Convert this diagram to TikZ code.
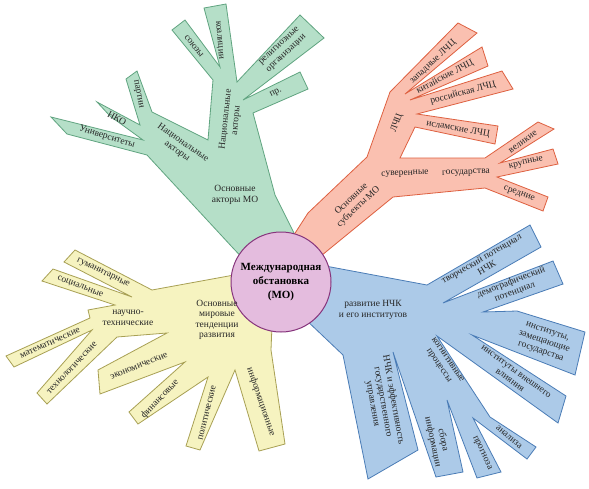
\documentclass[tikz,border=0pt]{standalone}
\usepackage{fontspec}
\setmainfont{Liberation Serif}
\definecolor{actfill}{RGB}{181,223,200}
\definecolor{actline}{RGB}{96,164,128}
\definecolor{subfill}{RGB}{250,192,176}
\definecolor{subline}{RGB}{222,96,64}
\definecolor{trendfill}{RGB}{246,243,192}
\definecolor{trendline}{RGB}{168,160,84}
\definecolor{ncfill}{RGB}{172,202,232}
\definecolor{ncline}{RGB}{74,124,182}
\definecolor{mofill}{RGB}{228,188,222}
\definecolor{moline}{RGB}{134,52,124}
\tikzset{
  branch/.style={line width=0.8pt, line join=miter},
  lbl/.style={font=\fontsize{9.5}{10.5}\selectfont, align=center, inner sep=1pt, text=black!85},
}
\begin{document}
\begin{tikzpicture}[x=1pt, y=-1pt]
\useasboundingbox (0,0) rectangle (589,488);
\fill[white] (0,0) rectangle (589,488);
\draw[branch, draw=actline, fill=actfill] (250,266) -- (233,248) -- (147,155) -- (67,134) -- (51,117) -- (143,140) -- (110,116) -- (97,102) -- (140,125) -- (126,79) -- (137,71) -- (152,112) -- (208,140) -- (213,80) -- (172,30) -- (185,20) -- (220,67) -- (204,8) -- (226,4) -- (237,82) -- (300,15) -- (324,38) -- (243,100) -- (300,72) -- (308,89) -- (253,113) -- (275,195) -- (300,245) -- cycle;
\draw[branch, draw=subline, fill=subfill] (290,241) -- (308,213) -- (367,157) -- (390,92) -- (458,23) -- (477,33) -- (405,94) -- (482,47) -- (488,66) -- (410,100) -- (502,71) -- (513,89) -- (417,114) -- (498,126) -- (495,144) -- (415,127) -- (400,158) -- (485,158) -- (538,122) -- (554,129) -- (500,163) -- (553,149) -- (558,164) -- (497,177) -- (548,197) -- (543,211) -- (485,188) -- (393,197) -- (316,260) -- cycle;
\draw[branch, draw=trendline, fill=trendfill] (245,273) -- (152,290) -- (75,250) -- (64,262) -- (132,297) -- (53,269) -- (42,281) -- (115,305) -- (88,310) -- (90,318) -- (6,356) -- (14,367) -- (92,330) -- (37,393) -- (47,404) -- (117,337) -- (167,333) -- (98,370) -- (100,394) -- (185,362) -- (129,412) -- (138,424) -- (208,377) -- (186,446) -- (200,450) -- (235,370) -- (259,451) -- (285,444) -- (271,350) -- (272,325) -- cycle;
\draw[branch, draw=ncline, fill=ncfill] (320,265) -- (427,285) -- (530,225) -- (541,247) -- (443,303) -- (553,261) -- (563,284) -- (483,312) -- (517,311) -- (585,332) -- (575,375) -- (472,335) -- (566,396) -- (558,423) -- (437,336) -- (490,417) -- (536,447) -- (527,459) -- (473,418) -- (501,472) -- (477,478) -- (447,400) -- (463,472) -- (436,477) -- (393,352) -- (418,450) -- (368,479) -- (343,355) -- (303,317) -- cycle;
\node[circle, draw=moline, fill=mofill, line width=1pt, minimum size=100pt, align=center, font=\bfseries\fontsize{11}{14}\selectfont] (mo) at (281,282) {Международная\\обстановка\\(МО)};
\node[lbl] (actors) at (235,195) {Основные\\акторы МО};
\node[lbl, rotate=-35] (natA) at (180,147) {Национальные\\акторы};
\node[lbl, rotate=84] (natB) at (231,120) {Национальные\\акторы};
\node[lbl, rotate=-17] (univ) at (107,137) {Университеты};
\node[lbl, rotate=-28] (nko) at (117,118) {НКО};
\node[lbl, rotate=-79] (party) at (138,94) {партии};
\node[lbl, rotate=-52] (union) at (194,46) {союзы};
\node[lbl, rotate=-85] (coal) at (219,40) {коалиции};
\node[lbl, rotate=43] (relig) at (283,50) {религиозные\\организации};
\node[lbl, rotate=27] (other) at (276,93) {пр.};
\node[lbl, rotate=43] (subj) at (355,203) {Основные\\субъекты МО};
\node[lbl, rotate=70] (lcc) at (397,123) {ЛЧЦ};
\node[lbl, rotate=2] (sover) at (405,174) {суверенные};
\node[lbl, rotate=2] (gos) at (466,173) {государства};
\node[lbl, rotate=43] (west) at (433,62) {западные ЛЧЦ};
\node[lbl, rotate=28] (china) at (445,77) {китайские ЛЧЦ};
\node[lbl, rotate=15] (russia) at (463,93) {российская ЛЧЦ};
\node[lbl, rotate=-10] (islam) at (458,129) {исламские ЛЧЦ};
\node[lbl, rotate=35] (great) at (523,142) {великие};
\node[lbl, rotate=13] (large) at (526,163) {крупные};
\node[lbl, rotate=-19] (middle) at (519,194) {средние};
\node[lbl] (trends) at (217,320) {Основные\\мировые\\тенденции\\развития};
\node[lbl] (scitech) at (128,318) {научно-\\технические};
\node[lbl, rotate=-26] (hum) at (103,273) {гуманитарные};
\node[lbl, rotate=-21] (soc) at (80,287) {социальные};
\node[lbl, rotate=24] (math) at (50,343) {математические};
\node[lbl, rotate=46] (tech) at (72,368) {технологические};
\node[lbl, rotate=22] (econ) at (139,366) {экономические};
\node[lbl, rotate=46] (fin) at (160,399) {финансовые};
\node[lbl, rotate=76] (pol) at (207,413) {политические};
\node[lbl, rotate=-71] (info) at (261,402) {информационные};
\node[lbl] (nck) at (373,310) {развитие НЧК\\и его институтов};
\node[lbl, rotate=30] (creat) at (484,263) {творческий потенциал\\НЧК};
\node[lbl, rotate=21] (demo) at (513,287) {демографический\\потенциал};
\node[lbl, rotate=-19] (inst) at (544,342) {институты,\\замещающие\\государства};
\node[lbl, rotate=-36] (infl) at (513,376) {институты внешнего\\влияния};
\node[lbl, rotate=-56] (cogn) at (443,363) {когнитивные\\процессы};
\node[lbl, rotate=-40] (anal) at (509,437) {анализа};
\node[lbl, rotate=-65] (progn) at (482,453) {прогноза};
\node[lbl, rotate=-78] (sbor) at (438,441) {сбора\\информации};
\node[lbl, rotate=-80] (eff) at (383,402) {НЧК и эффективность\\государственного\\управления};
\end{tikzpicture}
\end{document}
